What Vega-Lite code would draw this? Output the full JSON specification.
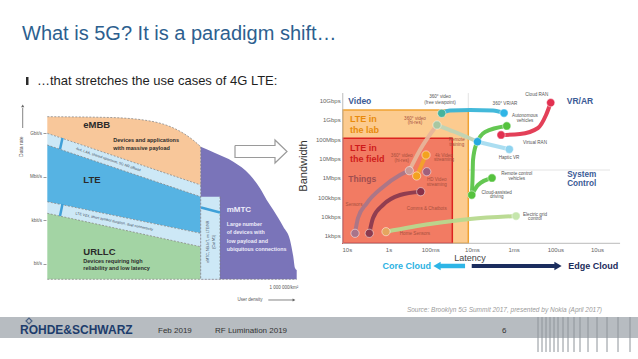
{
  "$schema": "https://vega.github.io/schema/vega-lite/v6.json",
  "width": 638,
  "height": 359,
  "autosize": {"type": "fit", "contains": "padding"},
  "padding": 0,
  "background": "#ffffff",
  "config": {"view": {"stroke": null}, "axis": {"grid": false}, "font": "Liberation Sans"},
  "datasets": {
    "slideRect": [
      {"cx": 0, "cx2": 638, "cy": 317, "cy2": 338, "part": "footer"},
      {"cx": 26, "cx2": 28.5, "cy": 77, "cy2": 85, "part": "bullet"}
    ],
    "slideBars": [
      {"cx": 538, "cy": 317, "cy2": 352}, {"cx": 542, "cy": 317, "cy2": 352}, {"cx": 546, "cy": 317, "cy2": 352},
      {"cx": 550, "cy": 317, "cy2": 352}, {"cx": 554, "cy": 317, "cy2": 352}, {"cx": 558, "cy": 317, "cy2": 352},
      {"cx": 563, "cy": 317, "cy2": 352}, {"cx": 568, "cy": 317, "cy2": 352}, {"cx": 574, "cy": 317, "cy2": 352},
      {"cx": 580, "cy": 317, "cy2": 352}, {"cx": 588, "cy": 317, "cy2": 352}, {"cx": 597, "cy": 317, "cy2": 352},
      {"cx": 607, "cy": 317, "cy2": 352}, {"cx": 618, "cy": 317, "cy2": 352}, {"cx": 630, "cy": 317, "cy2": 352}
    ],
    "slideArrow": [
      {"cx": 235, "cy": 145.5, "seq": 1}, {"cx": 275, "cy": 145.5, "seq": 2}, {"cx": 275, "cy": 140, "seq": 3},
      {"cx": 287, "cy": 151.5, "seq": 4}, {"cx": 275, "cy": 163, "seq": 5}, {"cx": 275, "cy": 157.5, "seq": 6},
      {"cx": 235, "cy": 157.5, "seq": 7}, {"cx": 235, "cy": 145.5, "seq": 8}
    ],
    "slideText": [
      {"cx": 22, "cy": 40, "text": "What is 5G? It is a paradigm shift…", "role": "title"},
      {"cx": 37, "cy": 81, "text": "…that stretches the use cases of 4G LTE:", "role": "bullet"},
      {"cx": 602, "cy": 309.5, "text": "Source: Brooklyn 5G Summit 2017, presented by Nokia (April 2017)", "role": "source"},
      {"cx": 20, "cy": 334, "text": "ROHDE&SCHWARZ", "role": "logo"},
      {"cx": 158, "cy": 331, "text": "Feb 2019", "role": "footer"},
      {"cx": 215, "cy": 331, "text": "RF Lumination 2019", "role": "footer"},
      {"cx": 502, "cy": 331, "text": "6", "role": "footer"}
    ],
    "leftArea": [
      {"region": "eMBB", "part": "eMBB", "density": 0, "rate": 1.40e10, "rate2": 1.00e9},
      {"region": "eMBB", "part": "eMBB", "density": 264895, "rate": 1.23e10, "rate2": 3.52e7},
      {"region": "eMBB", "part": "eMBB", "density": 433887, "rate": 7.05e9, "rate2": 4.15e6},
      {"region": "eMBB", "part": "eMBB", "density": 518383, "rate": 2.95e9, "rate2": 1.42e6},
      {"region": "eMBB", "part": "eMBB", "density": 573305, "rate": 1.05e9, "rate2": 7.11e5},
      {"region": "eMBB", "part": "eMBB", "density": 615553, "rate": 3.47e8, "rate2": 4.17e5},
      {"region": "eMBB", "part": "eMBB", "density": 648084, "rate": 1.20e8, "rate2": 2.76e5},
      {"region": "band", "part": "band1", "density": 0, "rate": 1.00e9, "rate2": 1.57e8},
      {"region": "band", "part": "band1", "density": 648084, "rate": 2.76e5, "rate2": 4.31e4},
      {"region": "LTE", "part": "LTE", "density": 0, "rate": 1.57e8, "rate2": 1.95e4},
      {"region": "LTE", "part": "LTE", "density": 648084, "rate": 4.31e4, "rate2": 130},
      {"region": "band", "part": "band2", "density": 0, "rate": 1.95e4, "rate2": 3.10e3},
      {"region": "band", "part": "band2", "density": 648084, "rate": 130, "rate2": 15.5},
      {"region": "URLLC", "part": "URLLC", "density": 0, "rate": 3.10e3, "rate2": 0.0883},
      {"region": "URLLC", "part": "URLLC", "density": 648084, "rate": 15.5, "rate2": 0.0883},
      {"region": "mMTC", "part": "mMTC", "density": 648084, "rate": 1.20e8, "rate2": 0.0883},
      {"region": "mMTC", "part": "mMTC", "density": 708499, "rate": 4.41e7, "rate2": 0.0883},
      {"region": "mMTC", "part": "mMTC", "density": 785813, "rate": 1.11e7, "rate2": 0.0883},
      {"region": "mMTC", "part": "mMTC", "density": 856367, "rate": 1.35e6, "rate2": 0.0883},
      {"region": "mMTC", "part": "mMTC", "density": 898615, "rate": 1.63e5, "rate2": 0.0883},
      {"region": "mMTC", "part": "mMTC", "density": 926921, "rate": 2.56e4, "rate2": 0.0883},
      {"region": "mMTC", "part": "mMTC", "density": 954805, "rate": 5.24e3, "rate2": 0.0883},
      {"region": "mMTC", "part": "mMTC", "density": 997053, "rate": 371, "rate2": 0.0883},
      {"region": "mMTC", "part": "mMTC", "density": 1025359, "rate": 45, "rate2": 0.0883},
      {"region": "mMTC", "part": "mMTC", "density": 1039301, "rate": 3.18, "rate2": 0.0883},
      {"region": "mMTC", "part": "mMTC", "density": 1046483, "rate": 0.53, "rate2": 0.0883},
      {"region": "mMTC", "part": "mMTC", "density": 1053665, "rate": 0.386, "rate2": 0.0883}
    ],
    "leftBand": [
      {"density": 648084, "rate": 4.31e4, "rate2": 0.0883},
      {"density": 729623, "rate": 4.31e4, "rate2": 0.0883}
    ],
    "leftEdge": [
      {"edge": "e1", "seq": 1, "density": 0, "rate": 1.40e10},
      {"edge": "e1", "seq": 2, "density": 264895, "rate": 1.23e10},
      {"edge": "e1", "seq": 3, "density": 433887, "rate": 7.05e9},
      {"edge": "e1", "seq": 4, "density": 518383, "rate": 2.95e9},
      {"edge": "e1", "seq": 5, "density": 573305, "rate": 1.05e9},
      {"edge": "e1", "seq": 6, "density": 615553, "rate": 3.47e8},
      {"edge": "e1", "seq": 7, "density": 648084, "rate": 1.20e8},
      {"edge": "e2", "seq": 1, "density": 0, "rate": 1.00e9},
      {"edge": "e2", "seq": 2, "density": 648084, "rate": 2.76e5},
      {"edge": "e3", "seq": 1, "density": 0, "rate": 1.57e8},
      {"edge": "e3", "seq": 2, "density": 648084, "rate": 4.31e4},
      {"edge": "e4", "seq": 1, "density": 0, "rate": 1.95e4},
      {"edge": "e4", "seq": 2, "density": 648084, "rate": 130},
      {"edge": "e5", "seq": 1, "density": 0, "rate": 3.10e3},
      {"edge": "e5", "seq": 2, "density": 648084, "rate": 15.5},
      {"edge": "e6", "seq": 1, "density": 0, "rate": 0.0883},
      {"edge": "e6", "seq": 2, "density": 1053665, "rate": 0.0883},
      {"edge": "e7", "seq": 1, "density": 648084, "rate": 1.20e8},
      {"edge": "e7", "seq": 2, "density": 648084, "rate": 0.0883},
      {"edge": "e8", "seq": 1, "density": 729623, "rate": 4.31e4},
      {"edge": "e8", "seq": 2, "density": 729623, "rate": 0.0883}
    ],
    "leftStripe": [
      {"stripe": "s1", "seq": 1, "density": 64217, "rate": 4.76e8},
      {"stripe": "s1", "seq": 2, "density": 53655, "rate": 7.93e7},
      {"stripe": "s2", "seq": 1, "density": 64217, "rate": 1.36e4},
      {"stripe": "s2", "seq": 2, "density": 53655, "rate": 2.02e3},
      {"stripe": "s3", "seq": 1, "density": 649352, "rate": 7.78e3},
      {"stripe": "s3", "seq": 2, "density": 729623, "rate": 3.52e3}
    ],
    "leftText": [
      {"style": "big", "text": "eMBB", "density": 152093, "rate": 3.74e9},
      {"style": "big", "text": "LTE", "density": 152093, "rate": 6.10e5},
      {"style": "big", "text": "URLLC", "density": 152093, "rate": 7.03},
      {"style": "desc", "text": "Devices and applications", "density": 278837, "rate": 3.47e8},
      {"style": "desc", "text": "with massive payload", "density": 278837, "rate": 9.29e7},
      {"style": "desc", "text": "Devices requiring high", "density": 152093, "rate": 1.69},
      {"style": "desc", "text": "reliability and low latency", "density": 152093, "rate": 0.506},
      {"style": "mbig", "text": "mMTC", "density": 757929, "rate": 5.24e3},
      {"style": "mdesc", "text": "Large number", "density": 757929, "rate": 569},
      {"style": "mdesc", "text": "of devices with", "density": 757929, "rate": 152},
      {"style": "mdesc", "text": "low payload and", "density": 757929, "rate": 40.3},
      {"style": "mdesc", "text": "ubiquitous connections", "density": 757929, "rate": 10.3},
      {"style": "band1", "text": "4x4, LAA, shared spectrum, 5G NR offload", "density": 257713, "rate": 1.57e7},
      {"style": "band2", "text": "LTE V2X, short symbol duration, dual connectivity", "density": 282639, "rate": 845},
      {"style": "band3", "text": "eMTC, NB-IoT, on LTE/NR", "density": 678925, "rate": 34.3},
      {"style": "band3", "text": "(Cat M1)", "density": 704274, "rate": 34.3},
      {"style": "axisV", "text": "Data rate", "density": -112380, "rate": 1.20e8},
      {"style": "axis", "text": "User density", "density": 856367, "rate": 3.32e-3},
      {"style": "axis", "text": "1 000 000/km²", "density": 1000000, "rate": 0.0233}
    ],
    "leftRule": [
      {"density": -103930, "rate": 5.54e10, "rate2": 2.32e9, "density2": -103930},
      {"density": 933681, "rate": 3.32e-3, "rate2": 3.32e-3, "density2": 1038033}
    ],
    "leftHead": [
      {"density": -103930, "rate": 7.62e10, "dir": "up"},
      {"density": 1042258, "rate": 3.32e-3, "dir": "right"}
    ],
    "rightBox": [
      {"box": "lab", "lat": 12.5, "lat2": 0.0122, "bw": 405, "bw2": 3.3e9},
      {"box": "field", "lat": 12.5, "lat2": 0.0295, "bw": 405, "bw2": 1.12e8}
    ],
    "rightRule": [
      {"kind": "axis", "lat": 12.5, "lat2": 12.5, "bw": 405, "bw2": 2.5e10},
      {"kind": "axis", "lat": 12.5, "lat2": 2.8e-6, "bw": 405, "bw2": 405},
      {"kind": "quad", "lat": 0.0295, "lat2": 4.88e-6, "bw": 2.55e6, "bw2": 2.55e6},
      {"kind": "quad", "lat": 0.0122, "lat2": 0.0122, "bw": 3.3e9, "bw2": 2.5e10},
      {"kind": "core", "lat": 0.0146, "lat2": 0.0582, "bw": 27, "bw2": 27},
      {"kind": "edge", "lat": 0.0101, "lat2": 0.000102, "bw": 27, "bw2": 27}
    ],
    "rightHead": [
      {"kind": "core", "lat": 0.0687, "bw": 27},
      {"kind": "edge", "lat": 0.0000861, "bw": 27}
    ],
    "rightLine": [
      {"series": "video360", "seq": 1, "lat": 0.053, "bw": 2.22e9},
      {"series": "video360", "seq": 2, "lat": 0.0335, "bw": 3.10e9},
      {"series": "video360", "seq": 3, "lat": 0.0111, "bw": 3.30e9},
      {"series": "video360", "seq": 4, "lat": 0.00312, "bw": 3.10e9},
      {"series": "video360", "seq": 5, "lat": 0.0017, "bw": 2.30e9},
      {"series": "hires", "seq": 1, "lat": 0.0687, "bw": 5.5e8},
      {"series": "hires", "seq": 2, "lat": 0.0254, "bw": 2.38e8},
      {"series": "hires", "seq": 3, "lat": 0.00734, "bw": 7.5e7},
      {"series": "haptic", "seq": 1, "lat": 0.00734, "bw": 7.5e7},
      {"series": "haptic", "seq": 2, "lat": 0.00127, "bw": 3.03e7},
      {"series": "sensors", "seq": 1, "lat": 6.36, "bw": 1337},
      {"series": "sensors", "seq": 2, "lat": 5.39, "bw": 8300},
      {"series": "sensors", "seq": 3, "lat": 3.33, "bw": 48000},
      {"series": "sensors", "seq": 4, "lat": 1.33, "bw": 348000},
      {"series": "sensors", "seq": 5, "lat": 0.53, "bw": 1410000},
      {"series": "sensors", "seq": 6, "lat": 0.317, "bw": 2350000},
      {"series": "sensorsUp", "seq": 1, "lat": 0.317, "bw": 2350000},
      {"series": "sensorsUp", "seq": 2, "lat": 0.176, "bw": 2.78e7},
      {"series": "sensorsUp", "seq": 3, "lat": 0.0687, "bw": 5.5e8},
      {"series": "comms", "seq": 1, "lat": 2.89, "bw": 1337},
      {"series": "comms", "seq": 2, "lat": 2.35, "bw": 8300},
      {"series": "comms", "seq": 3, "lat": 1.36, "bw": 39200},
      {"series": "comms", "seq": 4, "lat": 0.53, "bw": 129000},
      {"series": "comms", "seq": 5, "lat": 0.169, "bw": 192000},
      {"series": "video4k", "seq": 1, "lat": 0.211, "bw": 1250000},
      {"series": "video4k", "seq": 2, "lat": 0.126, "bw": 1.53e7},
      {"series": "home", "seq": 1, "lat": 1.15, "bw": 1620},
      {"series": "home", "seq": 2, "lat": 0.101, "bw": 4060},
      {"series": "home", "seq": 3, "lat": 0.0111, "bw": 7360},
      {"series": "home", "seq": 4, "lat": 0.000875, "bw": 10500},
      {"series": "greenA", "seq": 1, "lat": 0.0101, "bw": 129000},
      {"series": "greenA", "seq": 2, "lat": 0.00968, "bw": 774000},
      {"series": "greenA", "seq": 3, "lat": 0.00941, "bw": 8430000},
      {"series": "greenA", "seq": 4, "lat": 0.00798, "bw": 5.05e7},
      {"series": "greenA", "seq": 5, "lat": 0.00485, "bw": 2.38e8},
      {"series": "greenA", "seq": 6, "lat": 0.00146, "bw": 4.88e8},
      {"series": "greenB", "seq": 1, "lat": 0.0101, "bw": 129000},
      {"series": "greenB", "seq": 2, "lat": 0.00714, "bw": 426000},
      {"series": "greenB", "seq": 3, "lat": 0.0033, "bw": 984000},
      {"series": "ran", "seq": 1, "lat": 0.002, "bw": 1.67e8},
      {"series": "ran", "seq": 2, "lat": 0.000703, "bw": 1.88e8},
      {"series": "ran", "seq": 3, "lat": 0.00026, "bw": 3.85e8},
      {"series": "ran", "seq": 4, "lat": 0.000167, "bw": 1.81e9},
      {"series": "ran", "seq": 5, "lat": 0.000129, "bw": 7.87e9}
    ],
    "rightPoint": [
      {"name": "360 video free viewpoint", "lat": 0.053, "bw": 2.22e9},
      {"name": "360 VR/AR", "lat": 0.0017, "bw": 2.30e9},
      {"name": "360 video hi-res", "lat": 0.0687, "bw": 5.5e8},
      {"name": "Remote training", "lat": 0.00734, "bw": 7.5e7},
      {"name": "Haptic VR", "lat": 0.00127, "bw": 3.03e7},
      {"name": "4k Video streaming", "lat": 0.126, "bw": 1.53e7},
      {"name": "Video streaming", "lat": 0.211, "bw": 1250000},
      {"name": "360 video hi-res (field)", "lat": 0.317, "bw": 2350000},
      {"name": "HD Video streaming", "lat": 0.121, "bw": 2080000},
      {"name": "Sensors", "lat": 6.36, "bw": 1337},
      {"name": "Comms start", "lat": 2.89, "bw": 1337},
      {"name": "Comms & Chatbots", "lat": 0.169, "bw": 192000},
      {"name": "Home Sensors", "lat": 1.15, "bw": 1620},
      {"name": "Electric grid control", "lat": 0.000875, "bw": 10500},
      {"name": "Cloud-assisted driving", "lat": 0.0101, "bw": 129000},
      {"name": "Remote control vehicles", "lat": 0.0033, "bw": 984000},
      {"name": "Autonomous vehicles", "lat": 0.00146, "bw": 4.88e8},
      {"name": "Virtual RAN", "lat": 0.002, "bw": 1.67e8},
      {"name": "Cloud RAN", "lat": 0.000129, "bw": 7.87e9}
    ],
    "rightLabel": [
      {"style": "lbl", "text": "360° video", "lat": 0.0582, "bw": 1.5e10},
      {"style": "lbl", "text": "(free viewpoint)", "lat": 0.0582, "bw": 7.87e9},
      {"style": "lbl", "text": "360° VR/AR", "lat": 0.00161, "bw": 6.75e9},
      {"style": "lbl", "text": "Cloud RAN", "lat": 0.000279, "bw": 1.97e10},
      {"style": "lbl", "text": "Autonomous", "lat": 0.000533, "bw": 1.61e9},
      {"style": "lbl", "text": "vehicles", "lat": 0.000533, "bw": 8.36e8},
      {"style": "lbl", "text": "Virtual RAN", "lat": 0.000307, "bw": 6.41e7},
      {"style": "lbl", "text": "Haptic VR", "lat": 0.00129, "bw": 1.01e7},
      {"style": "lbl", "text": "Remote control", "lat": 0.000843, "bw": 1.58e6},
      {"style": "lbl", "text": "vehicles", "lat": 0.000843, "bw": 8.73e5},
      {"style": "lbl", "text": "Cloud-assisted", "lat": 0.00254, "bw": 1.74e5},
      {"style": "lbl", "text": "driving", "lat": 0.00254, "bw": 9.59e4},
      {"style": "lbl", "text": "Electric grid", "lat": 0.000307, "bw": 1.26e4},
      {"style": "lbl", "text": "control", "lat": 0.000307, "bw": 6.94e3},
      {"style": "inlbl", "text": "360° video", "lat": 0.232, "bw": 1.19e9},
      {"style": "inlbl", "text": "(hi-res)", "lat": 0.232, "bw": 6.58e8},
      {"style": "inlbl", "text": "Remote", "lat": 0.0232, "bw": 8.65e7},
      {"style": "inlbl", "text": "training", "lat": 0.0232, "bw": 4.77e7},
      {"style": "inlbl", "text": "360° video", "lat": 0.482, "bw": 1.36e7},
      {"style": "inlbl", "text": "(hi-res)", "lat": 0.482, "bw": 7.48e6},
      {"style": "inlbl", "text": "4k Video", "lat": 0.0467, "bw": 1.44e7},
      {"style": "inlbl", "text": "streaming", "lat": 0.0467, "bw": 7.94e6},
      {"style": "inlbl", "text": "HD Video", "lat": 0.0698, "bw": 7.30e5},
      {"style": "inlbl", "text": "streaming", "lat": 0.0698, "bw": 4.02e5},
      {"style": "inlbl", "text": "Sensors", "lat": 6.72, "bw": 3.92e4},
      {"style": "inlbl", "text": "Comms & Chatbots", "lat": 0.121, "bw": 2.34e4},
      {"style": "inlbl", "text": "Home Sensors", "lat": 0.232, "bw": 1.23e3},
      {"style": "quad", "text": "Video", "lat": 9.2, "bw": 1e10},
      {"style": "quad", "text": "VR/AR", "lat": 0.0000533, "bw": 1e10},
      {"style": "quadc", "text": "System", "lat": 0.0000233, "bw": 1.33e6},
      {"style": "quadc", "text": "Control", "lat": 0.0000233, "bw": 4.53e5},
      {"style": "things", "text": "Things", "lat": 9.2, "bw": 8.73e5},
      {"style": "lab", "text": "LTE in", "lat": 8.38, "bw": 1.09e9},
      {"style": "lab", "text": "the lab", "lat": 8.38, "bw": 3.03e8},
      {"style": "field", "text": "LTE in", "lat": 8.38, "bw": 3.41e7},
      {"style": "field", "text": "the field", "lat": 8.38, "bw": 9.5e6},
      {"style": "bandwidth", "text": "Bandwidth", "lat": 106, "bw": 4.12e6},
      {"style": "latency", "text": "Latency", "lat": 0.0111, "bw": 66},
      {"style": "core", "text": "Core Cloud", "lat": 0.366, "bw": 27},
      {"style": "edge", "text": "Edge Cloud", "lat": 0.0000123, "bw": 27}
    ]
  },
  "layer": [
    {
      "encoding": {
        "x": {"field": "cx", "type": "quantitative", "scale": {"domain": [0, 638], "nice": false, "zero": false}, "axis": null},
        "y": {"field": "cy", "type": "quantitative", "scale": {"domain": [0, 359], "nice": false, "zero": false, "reverse": true}, "axis": null}
      },
      "layer": [
        {"data": {"name": "slideRect"}, "transform": [{"filter": "datum.part === 'footer'"}], "mark": {"type": "rect", "color": "#b7bcc1"}, "encoding": {"x2": {"field": "cx2"}, "y2": {"field": "cy2"}}},
        {"data": {"name": "slideRect"}, "transform": [{"filter": "datum.part === 'bullet'"}], "mark": {"type": "rect", "color": "#2b2b2b"}, "encoding": {"x2": {"field": "cx2"}, "y2": {"field": "cy2"}}},
        {"data": {"name": "slideBars"}, "mark": {"type": "rule", "color": "#8e949a", "strokeWidth": 1}, "encoding": {"y2": {"field": "cy2"}}},
        {"data": {"name": "slideArrow"}, "mark": {"type": "line", "color": "#9a9a9a", "strokeWidth": 1.2}, "encoding": {"order": {"field": "seq"}}},
        {"data": {"values": [{"cx": 29, "cy": 321}]}, "mark": {"type": "point", "shape": "diamond", "size": 35, "filled": false, "color": "#1d3c6c", "strokeWidth": 1.2}},
        {"data": {"name": "slideText"}, "transform": [{"filter": "datum.role === 'title'"}], "mark": {"type": "text", "align": "left", "baseline": "alphabetic", "font": "Liberation Sans", "fontSize": 20, "color": "#2d5f8f"}, "encoding": {"text": {"field": "text"}}},
        {"data": {"name": "slideText"}, "transform": [{"filter": "datum.role === 'bullet'"}], "mark": {"type": "text", "align": "left", "baseline": "middle", "fontSize": 13, "color": "#1e1e1e"}, "encoding": {"text": {"field": "text"}}},
        {"data": {"name": "slideText"}, "transform": [{"filter": "datum.role === 'source'"}], "mark": {"type": "text", "align": "right", "baseline": "middle", "fontSize": 6.5, "fontStyle": "italic", "color": "#9b9b9b"}, "encoding": {"text": {"field": "text"}}},
        {"data": {"name": "slideText"}, "transform": [{"filter": "datum.role === 'logo'"}], "mark": {"type": "text", "align": "left", "baseline": "alphabetic", "fontSize": 12, "fontWeight": "bold", "color": "#1d3c6c"}, "encoding": {"text": {"field": "text"}}},
        {"data": {"name": "slideText"}, "transform": [{"filter": "datum.role === 'footer'"}], "mark": {"type": "text", "align": "left", "baseline": "middle", "fontSize": 8, "color": "#333333"}, "encoding": {"text": {"field": "text"}}}
      ]
    },
    {
      "encoding": {
        "x": {"field": "density", "type": "quantitative", "scale": {"domain": [-199833, 2495604], "nice": false, "zero": false}, "axis": null},
        "y": {"field": "rate", "type": "quantitative", "scale": {"type": "log", "domain": [2.865e-7, 1.52e18], "nice": false},
          "axis": {"orient": "left", "offset": -46, "values": [1, 1000, 1000000, 1000000000],
            "labelExpr": "datum.value >= 5e8 ? 'Gbit/s' : datum.value >= 5e5 ? 'Mbit/s' : datum.value >= 500 ? 'kbit/s' : 'bit/s'",
            "labelFontSize": 4.5, "labelColor": "#555555", "tickSize": 3, "tickColor": "#9a9a9a", "labelPadding": 1.5, "domain": false, "grid": false, "title": null, "labelFlush": false, "labelOverlap": false}}
      },
      "layer": [
        {"data": {"name": "leftArea"}, "mark": {"type": "area", "interpolate": "monotone"},
          "encoding": {"y2": {"field": "rate2"}, "detail": {"field": "part"},
            "color": {"field": "region", "type": "nominal", "legend": null, "scale": {"domain": ["eMBB", "band", "LTE", "URLLC", "mMTC"], "range": ["#f8c79a", "#cde8f6", "#56b3e3", "#a3d4a4", "#7a74b9"]}}}},
        {"data": {"name": "leftBand"}, "mark": {"type": "area", "color": "#cde8f6"}, "encoding": {"y2": {"field": "rate2"}}},
        {"data": {"name": "leftEdge"}, "mark": {"type": "line", "color": "#7d7d7d", "strokeWidth": 0.7, "strokeDash": [2, 1.5], "interpolate": "monotone"}, "encoding": {"detail": {"field": "edge"}, "order": {"field": "seq"}}},
        {"data": {"name": "leftStripe"}, "mark": {"type": "line", "color": "#3fa0d8", "strokeWidth": 2.5}, "encoding": {"detail": {"field": "stripe"}, "order": {"field": "seq"}}},
        {"data": {"name": "leftRule"}, "mark": {"type": "rule", "color": "#333333", "strokeWidth": 0.6}, "encoding": {"x2": {"field": "density2"}, "y2": {"field": "rate2"}}},
        {"data": {"name": "leftHead"}, "transform": [{"filter": "datum.dir === 'up'"}], "mark": {"type": "point", "shape": "triangle-up", "size": 10, "filled": true, "color": "#222222"}},
        {"data": {"name": "leftHead"}, "transform": [{"filter": "datum.dir === 'right'"}], "mark": {"type": "point", "shape": "triangle-right", "size": 10, "filled": true, "color": "#222222"}},
        {"data": {"name": "leftText"}, "transform": [{"filter": "datum.style === 'big'"}], "mark": {"type": "text", "align": "left", "baseline": "middle", "fontSize": 9.5, "fontWeight": "bold", "color": "#2b2a2a"}, "encoding": {"text": {"field": "text"}}},
        {"data": {"name": "leftText"}, "transform": [{"filter": "datum.style === 'desc'"}], "mark": {"type": "text", "align": "left", "baseline": "middle", "fontSize": 5.5, "fontWeight": "bold", "color": "#2b2a2a"}, "encoding": {"text": {"field": "text"}}},
        {"data": {"name": "leftText"}, "transform": [{"filter": "datum.style === 'mbig'"}], "mark": {"type": "text", "align": "left", "baseline": "middle", "fontSize": 8, "fontWeight": "bold", "color": "#eeecfa"}, "encoding": {"text": {"field": "text"}}},
        {"data": {"name": "leftText"}, "transform": [{"filter": "datum.style === 'mdesc'"}], "mark": {"type": "text", "align": "left", "baseline": "middle", "fontSize": 5.3, "fontWeight": "bold", "color": "#eeecfa"}, "encoding": {"text": {"field": "text"}}},
        {"data": {"name": "leftText"}, "transform": [{"filter": "datum.style === 'band1'"}], "mark": {"type": "text", "align": "center", "baseline": "middle", "fontSize": 3.6, "angle": 18.6, "color": "#3a4a5a"}, "encoding": {"text": {"field": "text"}}},
        {"data": {"name": "leftText"}, "transform": [{"filter": "datum.style === 'band2'"}], "mark": {"type": "text", "align": "center", "baseline": "middle", "fontSize": 3.6, "angle": 12, "color": "#3a4a5a"}, "encoding": {"text": {"field": "text"}}},
        {"data": {"name": "leftText"}, "transform": [{"filter": "datum.style === 'band3'"}], "mark": {"type": "text", "align": "center", "baseline": "middle", "fontSize": 3.6, "angle": -90, "color": "#3a4a5a"}, "encoding": {"text": {"field": "text"}}},
        {"data": {"name": "leftText"}, "transform": [{"filter": "datum.style === 'axisV'"}], "mark": {"type": "text", "align": "center", "baseline": "middle", "fontSize": 5, "angle": -90, "color": "#555555"}, "encoding": {"text": {"field": "text"}}},
        {"data": {"name": "leftText"}, "transform": [{"filter": "datum.style === 'axis'"}], "mark": {"type": "text", "align": "center", "baseline": "middle", "fontSize": 4.5, "color": "#555555"}, "encoding": {"text": {"field": "text"}}}
      ]
    },
    {
      "encoding": {
        "x": {"field": "lat", "type": "quantitative", "scale": {"type": "log", "domain": [1.04e-6, 2.075e9], "reverse": true, "nice": false},
          "axis": {"orient": "bottom", "offset": -115.7, "values": [10, 1, 0.1, 0.01, 0.001, 0.0001, 0.00001],
            "labelExpr": "datum.value >= 5 ? '10s' : datum.value >= 0.5 ? '1s' : datum.value >= 0.05 ? '100ms' : datum.value >= 0.005 ? '10ms' : datum.value >= 0.0005 ? '1ms' : datum.value >= 0.00005 ? '100us' : '10us'",
            "labelFontSize": 6, "labelColor": "#666666", "labelPadding": 3, "ticks": false, "domain": false, "grid": false, "title": null, "labelFlush": false, "labelOverlap": false}},
        "y": {"field": "bw", "type": "quantitative", "scale": {"type": "log", "domain": [0.000407, 1.66e15], "nice": false},
          "axis": {"orient": "left", "offset": -342.7, "values": [1000, 10000, 100000, 1000000, 10000000, 100000000, 1000000000, 10000000000],
            "labelExpr": "datum.value >= 5e9 ? '10Gbps' : datum.value >= 5e8 ? '1Gbps' : datum.value >= 5e7 ? '100Mbps' : datum.value >= 5e6 ? '10Mbps' : datum.value >= 5e5 ? '1Mbps' : datum.value >= 5e4 ? '100kbps' : datum.value >= 5e3 ? '10kbps' : '1kbps'",
            "labelFontSize": 6, "labelColor": "#666666", "labelPadding": 2.5, "ticks": false, "domain": false, "grid": false, "title": null, "labelFlush": false, "labelOverlap": false}}
      },
      "layer": [
        {"data": {"name": "rightRule"}, "transform": [{"filter": "datum.kind === 'quad'"}], "mark": {"type": "rule", "color": "#dddddd", "strokeWidth": 0.8}, "encoding": {"x2": {"field": "lat2"}, "y2": {"field": "bw2"}}},
        {"data": {"name": "rightBox"}, "transform": [{"filter": "datum.box === 'lab'"}], "mark": {"type": "rect", "fill": "#fccb8f", "stroke": "#f0a232", "strokeWidth": 1.5}, "encoding": {"x2": {"field": "lat2"}, "y2": {"field": "bw2"}}},
        {"data": {"name": "rightBox"}, "transform": [{"filter": "datum.box === 'field'"}], "mark": {"type": "rect", "fill": "#f27b63", "stroke": "#dc2320", "strokeWidth": 1.5}, "encoding": {"x2": {"field": "lat2"}, "y2": {"field": "bw2"}}},
        {"data": {"name": "rightRule"}, "transform": [{"filter": "datum.kind === 'axis'"}], "mark": {"type": "rule", "color": "#bbbbbb", "strokeWidth": 1}, "encoding": {"x2": {"field": "lat2"}, "y2": {"field": "bw2"}}},
        {"data": {"name": "rightRule"}, "transform": [{"filter": "datum.kind === 'core'"}], "mark": {"type": "rule", "color": "#2db5e6", "strokeWidth": 4.5}, "encoding": {"x2": {"field": "lat2"}, "y2": {"field": "bw2"}}},
        {"data": {"name": "rightRule"}, "transform": [{"filter": "datum.kind === 'edge'"}], "mark": {"type": "rule", "color": "#1b2d5e", "strokeWidth": 4}, "encoding": {"x2": {"field": "lat2"}, "y2": {"field": "bw2"}}},
        {"data": {"name": "rightHead"}, "transform": [{"filter": "datum.kind === 'core'"}], "mark": {"type": "point", "shape": "triangle-left", "size": 70, "filled": true, "color": "#2db5e6", "opacity": 1}},
        {"data": {"name": "rightHead"}, "transform": [{"filter": "datum.kind === 'edge'"}], "mark": {"type": "point", "shape": "triangle-right", "size": 70, "filled": true, "color": "#1b2d5e", "opacity": 1}},
        {"data": {"name": "rightLine"}, "mark": {"type": "line", "strokeWidth": 4, "interpolate": "monotone", "strokeCap": "round", "opacity": 0.95},
          "encoding": {"order": {"field": "seq"},
            "color": {"field": "series", "type": "nominal", "legend": null, "scale": {"domain": ["video360", "hires", "haptic", "sensors", "sensorsUp", "comms", "video4k", "home", "greenA", "greenB", "ran"], "range": ["#39b5d8", "#bfd3b5", "#a6dcf0", "#a87689", "#e7b59a", "#8b3a4f", "#f2a12a", "#b7d98e", "#5cc449", "#5cc449", "#e2364f"]}}}},
        {"data": {"name": "rightPoint"}, "mark": {"type": "circle", "size": 68, "opacity": 1, "stroke": "#ffffff", "strokeWidth": 0.7, "strokeOpacity": 0.7},
          "encoding": {"color": {"field": "name", "type": "nominal", "legend": null, "scale": {
            "domain": ["360 video free viewpoint", "360 VR/AR", "360 video hi-res", "Remote training", "Haptic VR", "4k Video streaming", "Video streaming", "360 video hi-res (field)", "HD Video streaming", "Sensors", "Comms start", "Comms & Chatbots", "Home Sensors", "Electric grid control", "Cloud-assisted driving", "Remote control vehicles", "Autonomous vehicles", "Virtual RAN", "Cloud RAN"],
            "range": ["#46b39c", "#2fb5e6", "#a9c7a1", "#25a9e0", "#8fd3ef", "#f3a220", "#f3a220", "#c99a98", "#a0607c", "#a8748a", "#8c3a4e", "#8a3048", "#e5a55f", "#c6e6ad", "#55c23e", "#55c23e", "#55c23e", "#e23050", "#e23050"]}}}},
        {"data": {"name": "rightLabel"}, "transform": [{"filter": "datum.style === 'lbl'"}], "mark": {"type": "text", "align": "center", "baseline": "middle", "fontSize": 4.6, "color": "#555555"}, "encoding": {"text": {"field": "text"}}},
        {"data": {"name": "rightLabel"}, "transform": [{"filter": "datum.style === 'inlbl'"}], "mark": {"type": "text", "align": "center", "baseline": "middle", "fontSize": 4.6, "color": "#a8503e"}, "encoding": {"text": {"field": "text"}}},
        {"data": {"name": "rightLabel"}, "transform": [{"filter": "datum.style === 'quad'"}], "mark": {"type": "text", "align": "left", "baseline": "middle", "fontSize": 8.5, "fontWeight": "bold", "color": "#3b5b96"}, "encoding": {"text": {"field": "text"}}},
        {"data": {"name": "rightLabel"}, "transform": [{"filter": "datum.style === 'quadc'"}], "mark": {"type": "text", "align": "center", "baseline": "middle", "fontSize": 8.2, "fontWeight": "bold", "color": "#3b5b96"}, "encoding": {"text": {"field": "text"}}},
        {"data": {"name": "rightLabel"}, "transform": [{"filter": "datum.style === 'things'"}], "mark": {"type": "text", "align": "left", "baseline": "middle", "fontSize": 8.5, "fontWeight": "bold", "color": "#a04e50"}, "encoding": {"text": {"field": "text"}}},
        {"data": {"name": "rightLabel"}, "transform": [{"filter": "datum.style === 'lab'"}], "mark": {"type": "text", "align": "left", "baseline": "middle", "fontSize": 9, "fontWeight": "bold", "color": "#e88a0c"}, "encoding": {"text": {"field": "text"}}},
        {"data": {"name": "rightLabel"}, "transform": [{"filter": "datum.style === 'field'"}], "mark": {"type": "text", "align": "left", "baseline": "middle", "fontSize": 9, "fontWeight": "bold", "color": "#cf1b1b"}, "encoding": {"text": {"field": "text"}}},
        {"data": {"name": "rightLabel"}, "transform": [{"filter": "datum.style === 'bandwidth'"}], "mark": {"type": "text", "align": "center", "baseline": "middle", "fontSize": 11, "angle": -90, "color": "#333333"}, "encoding": {"text": {"field": "text"}}},
        {"data": {"name": "rightLabel"}, "transform": [{"filter": "datum.style === 'latency'"}], "mark": {"type": "text", "align": "center", "baseline": "middle", "fontSize": 9, "color": "#444444"}, "encoding": {"text": {"field": "text"}}},
        {"data": {"name": "rightLabel"}, "transform": [{"filter": "datum.style === 'core'"}], "mark": {"type": "text", "align": "center", "baseline": "middle", "fontSize": 9, "fontWeight": "bold", "color": "#2cb2e2"}, "encoding": {"text": {"field": "text"}}},
        {"data": {"name": "rightLabel"}, "transform": [{"filter": "datum.style === 'edge'"}], "mark": {"type": "text", "align": "center", "baseline": "middle", "fontSize": 9, "fontWeight": "bold", "color": "#1b2c5c"}, "encoding": {"text": {"field": "text"}}}
      ],
      "resolve": {"scale": {"color": "independent"}}
    }
  ],
  "resolve": {"scale": {"x": "independent", "y": "independent", "color": "independent"}}
}
